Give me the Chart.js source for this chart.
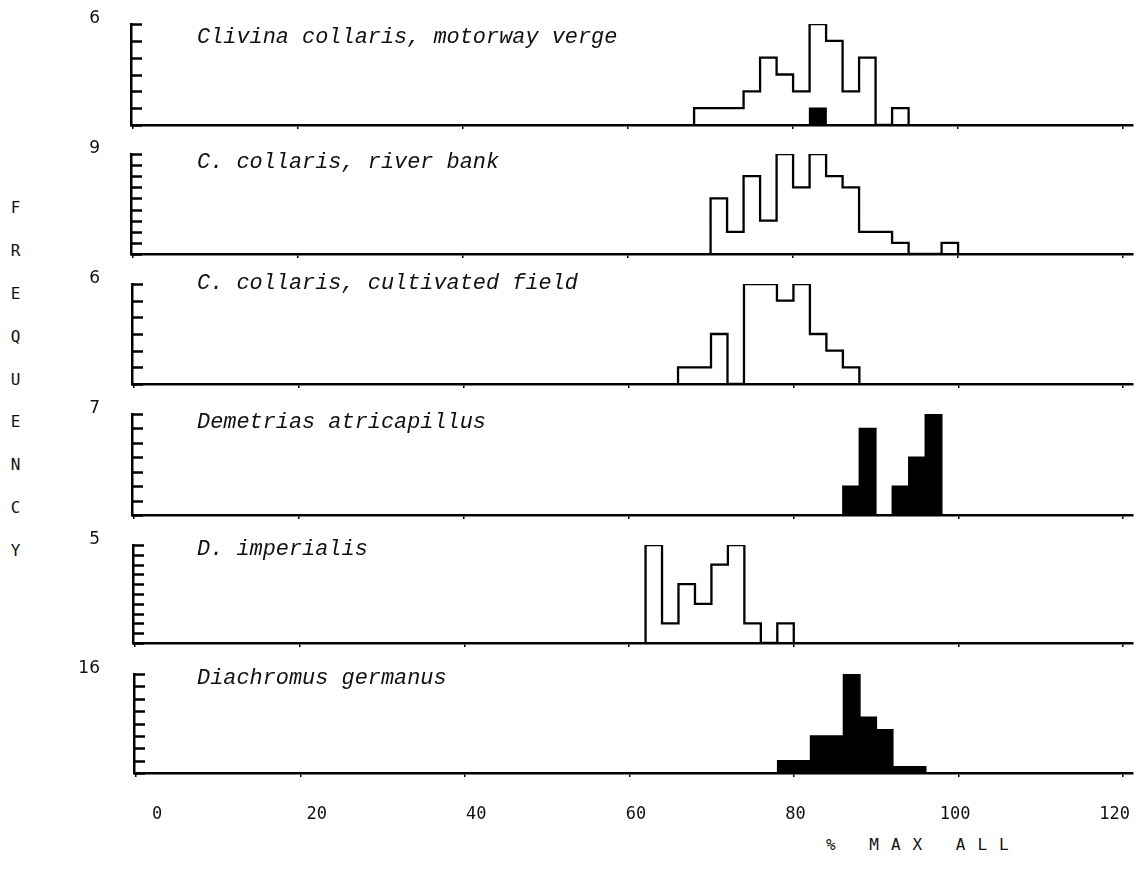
<!DOCTYPE html>
<html>
<head>
<meta charset="utf-8">
<script src="https://cdn.jsdelivr.net/npm/chart.js@4.4.1/dist/chart.umd.min.js"></script>
<style>
  html, body { margin: 0; padding: 0; background: #fff; }
  #wrap { position: relative; width: 1143px; height: 878px; overflow: hidden; background: #fff; }
  canvas { position: absolute; left: 0; }
  #ylab { position: absolute; left: 6px; top: 198px; font: 16px "DejaVu Sans Mono", monospace;
          writing-mode: vertical-lr; text-orientation: upright; letter-spacing: 23.9px; color: #111; }
  #xlab { position: absolute; left: 826px; top: 835px; font: 16px "DejaVu Sans Mono", monospace;
          letter-spacing: 12px; color: #111; white-space: pre; }
</style>
</head>
<body>
<div id="wrap">
  <div id="ylab">FREQUENCY</div>
  <div id="xlab">% MAX ALL</div>
</div>
<script>
// ---------------- data ----------------
const binWidth = 2;
const titles = [
  'Clivina collaris, motorway verge',
  'C. collaris, river bank',
  'C. collaris, cultivated field',
  'Demetrias atricapillus',
  'D. imperialis',
  'Diachromus germanus'
];
const yMax = [6, 9, 6, 7, 5, 16];
const yStep = [1, 1, 1, 1, 0.5, 2];

// histograms: first bin start + counts per 2-unit bin
const motorwayStart = 68;
const motorwayCounts = [1, 1, 1, 2, 4, 3, 2, 6, 5, 2, 4, 0, 1];
const motorwayBlackStart = 82;
const motorwayBlackCounts = [1];

const riverStart = 70;
const riverCounts = [5, 2, 7, 3, 9, 6, 9, 7, 6, 2, 2, 1, 0, 0, 1];

const fieldStart = 66;
const fieldCounts = [1, 1, 3, 0, 6, 6, 5, 6, 3, 2, 1];

const demetriasStart = 86;
const demetriasCounts = [2, 6, 0, 2, 4, 7];

const imperialisStart = 62;
const imperialisCounts = [5, 1, 3, 2, 4, 5, 1, 0, 1];

const diachromusStart = 78;
const diachromusCounts = [2, 2, 6, 6, 16, 9, 7, 1, 1];

const xTickValues = [0, 20, 40, 60, 80, 100, 120];
const xTickLabels = ['0', '20', '40', '60', '80', '100', '120'];

// ---------------- layout ----------------
const panelTop = [24, 154, 284, 414, 545, 674];
const panelBottom = [125, 254, 384, 515, 643, 773];
const panelLeft = [131, 131, 132, 132, 133, 134];
const titleOffset = [13, 8, -1, 8, 4, 4];
const padTop = 26;

function stepPoints(start, counts) {
  const pts = [{x: start, y: 0}];
  counts.forEach((c, i) => pts.push({x: start + (i + 1) * binWidth, y: c}));
  pts.push({x: start + counts.length * binWidth, y: 0});
  return pts;
}

function openSet(start, counts) {
  return { data: stepPoints(start, counts), stepped: 'after', borderColor: '#000',
           borderWidth: 2.3, pointRadius: 0, fill: false, order: 2 };
}
function solidSet(start, counts) {
  return { data: stepPoints(start, counts), stepped: 'after', borderColor: '#000',
           backgroundColor: '#000', borderWidth: 1.5, pointRadius: 0, fill: 'origin', order: 1 };
}

const panelSets = [
  [openSet(motorwayStart, motorwayCounts), solidSet(motorwayBlackStart, motorwayBlackCounts)],
  [openSet(riverStart, riverCounts)],
  [openSet(fieldStart, fieldCounts)],
  [solidSet(demetriasStart, demetriasCounts)],
  [openSet(imperialisStart, imperialisCounts)],
  [solidSet(diachromusStart, diachromusCounts)]
];

const panelDeco = {
  id: 'panelDeco',
  afterDraw(chart, args, opts) {
    const ctx = chart.ctx;
    const ys = chart.scales.y;
    const area = chart.chartArea;
    ctx.save();
    ctx.strokeStyle = '#000';
    ctx.lineWidth = 2.5;
    ys.ticks.forEach(t => {
      const py = Math.round(ys.getPixelForValue(t.value)) + 0.5;
      ctx.beginPath();
      ctx.moveTo(area.left, py);
      ctx.lineTo(area.left + 11, py);
      ctx.stroke();
    });
    ctx.fillStyle = '#111';
    ctx.font = '17px "DejaVu Sans", sans-serif';
    ctx.textAlign = 'right';
    ctx.textBaseline = 'middle';
    ctx.fillText(String(opts.max), 100, ys.getPixelForValue(opts.max) - 5);
    ctx.font = 'italic 21.9px "Liberation Mono", monospace';
    ctx.textAlign = 'left';
    ctx.fillText(opts.title, 197, area.top + opts.titleOffset);
    ctx.restore();
  }
};

function noSidePad(s) { s.paddingLeft = 0; s.paddingRight = 0; }

const wrap = document.getElementById('wrap');
panelSets.forEach((sets, i) => {
  const isLast = i === panelSets.length - 1;
  const xAxisH = 12;
  const labelAxisH = isLast ? 48 : 0;
  const h = padTop + (panelBottom[i] - panelTop[i]) + xAxisH + labelAxisH;
  const cv = document.createElement('canvas');
  cv.width = 1143; cv.height = h;
  cv.style.top = (panelTop[i] - padTop) + 'px';
  cv.style.width = '1143px'; cv.style.height = h + 'px';
  wrap.appendChild(cv);
  const scales = {
    x: {
      type: 'linear', min: -0.25, max: 121.2, weight: 0,
      afterFit(s) { s.height = xAxisH; noSidePad(s); },
      afterBuildTicks(s) { s.ticks = xTickValues.map(v => ({ value: v })); },
      border: { display: true, color: '#000', width: 2.5 },
      grid: { display: true, drawOnChartArea: false, drawTicks: true, tickLength: 4, color: '#000', lineWidth: 1.5 },
      ticks: { display: false }
    },
    y: {
      min: 0, max: yMax[i],
      afterFit(s) { s.width = panelLeft[i]; },
      border: { display: true, color: '#000', width: 2.5 },
      grid: { display: true, drawOnChartArea: false, drawTicks: false },
      ticks: { display: false, stepSize: yStep[i] }
    }
  };
  if (isLast) {
    // tick-label row, as the plotter printed it (slightly offset from the tick marks)
    scales.xl = {
      type: 'linear', position: 'bottom', min: -2.9, max: 122.3, weight: 1,
      afterFit(s) { s.height = labelAxisH; noSidePad(s); },
      afterBuildTicks(s) { s.ticks = xTickValues.map(v => ({ value: v })); },
      border: { display: false },
      grid: { display: false, drawTicks: false },
      ticks: {
        padding: 19, maxRotation: 0, autoSkip: false, color: '#111',
        font: { family: '"DejaVu Sans Mono", monospace', size: 17 },
        callback: (v) => xTickLabels[xTickValues.indexOf(v)]
      }
    };
  }
  new Chart(cv, {
    type: 'line',
    data: { datasets: sets },
    plugins: [panelDeco],
    options: {
      responsive: false,
      animation: false,
      devicePixelRatio: 1,
      layout: { padding: { top: padTop, left: 0, right: 10, bottom: 0 } },
      plugins: {
        legend: { display: false },
        tooltip: { enabled: false },
        panelDeco: { title: titles[i], max: yMax[i], titleOffset: titleOffset[i] }
      },
      scales
    }
  });
});
</script>
</body>
</html>
